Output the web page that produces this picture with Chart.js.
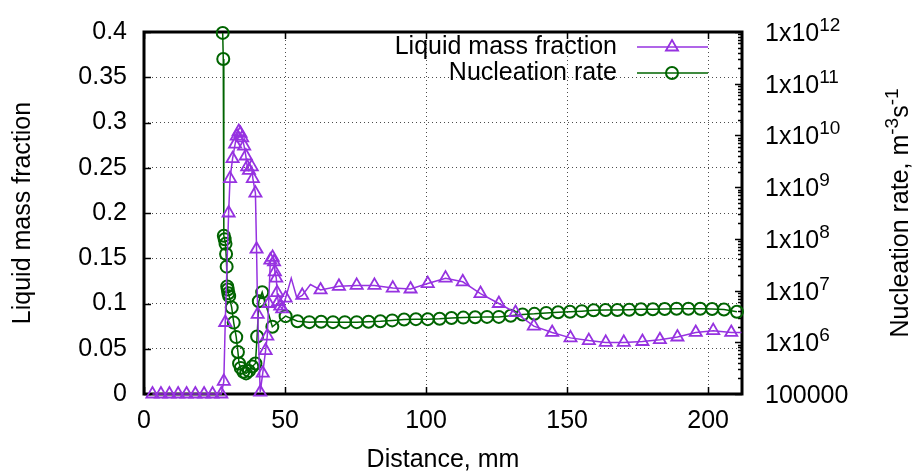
<!DOCTYPE html>
<html>
<head>
<meta charset="utf-8">
<script src="https://cdn.jsdelivr.net/npm/chart.js@4.4.1/dist/chart.umd.min.js"></script>
<style>
  html, body { margin: 0; padding: 0; background: #fff; }
</style>
</head>
<body>
<canvas id="chart" width="912" height="475"></canvas>
<script>
// liquid mass fraction along the sample (mm)
const liquidDist = [3.0, 6.0, 9.0, 12.1, 15.1, 18.2, 21.3, 24.3, 27.4,
  28.3, 28.8, 30.0, 30.5, 31.4, 32.3, 32.9, 33.6, 34.2, 34.8, 35.5, 36.1, 36.6, 37.2, 38.2, 38.6, 39.5,
  39.9, 40.3, 41.2, 42.1, 43.1, 43.7,
  44.2, 44.8, 45.6, 46.1, 46.4, 46.9, 47.2, 47.6, 48.3, 49.0, 50.2,
  52.2, 54.2, 56.1, 59.0, 62.6,
  69.1, 75.4, 81.7, 88.2, 94.5, 100.6, 106.9, 113.0, 119.3, 125.8, 131.7, 138.2, 144.7, 151.2,
  157.7, 163.7, 170.1, 176.7, 182.9, 189.1, 195.6, 201.8, 208.2, 211.8];
const liquidFrac = [0, 0, 0, 0, 0, 0, 0, 0, 0,
  0.014, 0.079, 0.200, 0.238, 0.260, 0.276, 0.285, 0.290, 0.288, 0.283, 0.274, 0.263, 0.251, 0.247, 0.251, 0.238, 0.222,
  0.160, 0.088, 0.002, 0.023, 0.048, 0.064,
  0.100, 0.148, 0.151, 0.146, 0.135, 0.128, 0.112, 0.102, 0.097, 0.094, 0.106,
  0.128, 0.106, 0.109, 0.121, 0.115,
  0.119, 0.120, 0.120, 0.117, 0.116, 0.122, 0.128, 0.124, 0.111, 0.100, 0.090, 0.075, 0.068, 0.062,
  0.059, 0.057, 0.057, 0.058, 0.060, 0.063, 0.068, 0.070, 0.068, 0.068];
// points on the line that carry no symbol
const liquidNoMark = [52.2, 54.2, 59.0, 211.8];

// nucleation rate, m^-3 s^-1
const nuclDist = [27.9, 28.1, 28.3, 28.6, 28.9, 29.1, 29.3, 29.5, 29.7, 29.9,
  30.2, 31.1, 31.8, 32.7, 33.3, 33.7, 34.3, 35.2, 36.2, 37.2,
  38.4, 39.5, 40.1, 40.7, 41.9, 45.5,
  50.2, 54.4, 58.6, 62.8, 67.0, 71.2, 75.4, 79.6, 83.8, 88.0,
  92.2, 96.4, 100.6, 104.8, 109.0, 113.2, 117.4, 121.6, 125.8, 130.0,
  134.2, 138.4, 142.6, 146.8, 151.0, 155.2, 159.4, 163.6, 167.8, 172.0,
  176.2, 180.4, 184.6, 188.8, 193.0, 197.2, 201.4, 205.6, 210.2];
const nuclRate = [9.6e11, 3.0e11, 1.15e8, 9.8e7, 8.0e7, 5.1e7, 2.9e7, 1.2e7, 1.05e7, 8.9e6,
  7.8e6, 4.7e6, 2.4e6, 1.26e6, 6.5e5, 3.9e5, 3.2e5, 2.7e5, 2.5e5, 2.8e5,
  3.4e5, 3.9e5, 1.29e6, 6.2e6, 9.3e6, 2.0e6,
  3.2e6, 2.55e6, 2.45e6, 2.5e6, 2.45e6, 2.45e6, 2.45e6, 2.5e6, 2.55e6, 2.65e6,
  2.75e6, 2.8e6, 2.8e6, 2.85e6, 2.95e6, 3.0e6, 3.05e6, 3.1e6, 3.1e6, 3.25e6,
  3.45e6, 3.55e6, 3.7e6, 3.8e6, 3.9e6, 4.0e6, 4.15e6, 4.2e6, 4.2e6, 4.25e6,
  4.35e6, 4.35e6, 4.4e6, 4.45e6, 4.45e6, 4.45e6, 4.4e6, 4.3e6, 3.9e6];

const distTicks = [0, 50, 100, 150, 200];
const fracTicks = [0, 0.05, 0.1, 0.15, 0.2, 0.25, 0.3, 0.35, 0.4];
const fracLabels = ['0', '0.05', '0.1', '0.15', '0.2', '0.25', '0.3', '0.35', '0.4'];
const rateTicks = [1e5, 1e6, 1e7, 1e8, 1e9, 1e10, 1e11, 1e12];

const FONT = 'Liberation Sans, Arial, Helvetica, sans-serif';
const PURPLE = '#9632e0';
const GREEN = '#006400';

Chart.defaults.font.family = FONT;
Chart.defaults.font.size = 25;
Chart.defaults.color = '#000';

function supText(ctx, x, y, parts, align) {
  // parts: [text, isSuperscript]
  const widths = parts.map(([t, sup]) => {
    ctx.font = (sup ? 19 : 25) + 'px ' + FONT;
    return ctx.measureText(t).width;
  });
  const total = widths.reduce((a, b) => a + b, 0);
  let cx = align === 'center' ? x - total / 2 : x;
  ctx.textAlign = 'left';
  ctx.textBaseline = 'alphabetic';
  parts.forEach(([t, sup], i) => {
    ctx.font = (sup ? 19 : 25) + 'px ' + FONT;
    ctx.fillText(t, cx, sup ? y - 10 : y);
    cx += widths[i];
  });
}

const gnuFrame = {
  id: 'gnuFrame',
  beforeDatasetsDraw(chart) {
    const {ctx, chartArea: a, scales} = chart;
    ctx.save();
    ctx.strokeStyle = '#000';
    ctx.lineWidth = 1.5;
    ctx.beginPath();
    distTicks.forEach(v => {
      const px = Math.round(scales.x.getPixelForValue(v)) + 0.5;
      ctx.moveTo(px, a.bottom); ctx.lineTo(px, a.bottom - 7);
      ctx.moveTo(px, a.top); ctx.lineTo(px, a.top + 7);
    });
    fracTicks.forEach(v => {
      const py = Math.round(scales.y.getPixelForValue(v)) + 0.5;
      ctx.moveTo(a.left, py); ctx.lineTo(a.left + 7, py);
    });
    rateTicks.forEach((v, i) => {
      const py = Math.round(scales.y2.getPixelForValue(v)) + 0.5;
      ctx.moveTo(a.right, py); ctx.lineTo(a.right - 7, py);
      if (i < rateTicks.length - 1) {
        for (let m = 2; m <= 9; m++) {
          const pm = Math.round(scales.y2.getPixelForValue(v * m)) + 0.5;
          ctx.moveTo(a.right, pm); ctx.lineTo(a.right - 4, pm);
        }
      }
    });
    ctx.stroke();
    ctx.lineWidth = 3;
    ctx.strokeRect(a.left, a.top, a.right - a.left, a.bottom - a.top);
    ctx.restore();
  },
  afterDraw(chart) {
    const {ctx, chartArea: a, scales} = chart;
    ctx.save();
    ctx.fillStyle = '#000';
    // right axis labels
    rateTicks.forEach(v => {
      const py = scales.y2.getPixelForValue(v) + 9;
      const exp = Math.round(Math.log10(v));
      if (exp === 5) supText(ctx, 765, py, [['100000', false]], 'left');
      else supText(ctx, 765, py, [['1x10', false], [String(exp), true]], 'left');
    });
    // right axis title
    ctx.save();
    ctx.translate(908, (a.top + a.bottom) / 2);
    ctx.rotate(-Math.PI / 2);
    supText(ctx, 0, 0, [['Nucleation rate, m', false], ['-3', true], ['s', false], ['-1', true]], 'center');
    ctx.restore();
    // key
    chart.data.datasets.forEach((ds, i) => {
      const y = 47 + i * 26;
      ctx.font = '25px ' + FONT;
      ctx.textAlign = 'right';
      ctx.textBaseline = 'middle';
      ctx.fillStyle = '#000';
      ctx.fillText(ds.label, 617, y);
      ctx.strokeStyle = ds.borderColor;
      ctx.lineWidth = 1.5;
      ctx.beginPath();
      ctx.moveTo(637, y); ctx.lineTo(708, y);
      ctx.stroke();
      ctx.fillStyle = 'rgba(0,0,0,0)';
      ctx.lineWidth = ds.pointBorderWidth;
      const r = ds.pointStyle === 'triangle' ? 7 : 6;
      Chart.helpers.drawPoint(ctx, {pointStyle: ds.pointStyle, radius: r, borderWidth: ds.pointBorderWidth, rotation: 0}, 672, y);
    });
    ctx.restore();
  }
};

new Chart(document.getElementById('chart'), {
  type: 'line',
  data: {
    datasets: [{
      label: 'Liquid mass fraction',
      data: liquidDist.map((x, i) => ({x: x, y: liquidFrac[i]})),
      yAxisID: 'y',
      borderColor: PURPLE,
      borderWidth: 1.5,
      pointStyle: 'triangle',
      pointRadius: ctx => liquidNoMark.includes(liquidDist[ctx.dataIndex]) ? 0 : 7,
      pointBorderWidth: 1.8,
      pointBorderColor: PURPLE,
      pointBackgroundColor: 'rgba(0,0,0,0)',
      tension: 0,
      clip: false
    }, {
      label: 'Nucleation rate',
      data: nuclDist.map((x, i) => ({x: x, y: nuclRate[i]})),
      yAxisID: 'y2',
      borderColor: GREEN,
      borderWidth: 1.5,
      pointStyle: 'circle',
      pointRadius: 6,
      pointBorderWidth: 2,
      pointBorderColor: GREEN,
      pointBackgroundColor: 'rgba(0,0,0,0)',
      tension: 0,
      clip: false
    }]
  },
  options: {
    responsive: false,
    animation: false,
    events: [],
    layout: { padding: { top: 25, left: 0, right: 0, bottom: 0 } },
    plugins: { legend: { display: false }, tooltip: { enabled: false } },
    scales: {
      x: {
        type: 'linear',
        min: 0,
        max: 212,
        afterBuildTicks: s => { s.ticks = distTicks.map(v => ({value: v})); },
        afterFit: s => { s.height = 81; },
        ticks: { padding: 12, maxRotation: 0 },
        grid: { color: 'rgba(0,0,0,0.7)', lineWidth: 1, drawTicks: false },
        border: { display: false, dash: [1, 3] },
        title: { display: true, text: 'Distance, mm', padding: { bottom: 0, top: 0 } }
      },
      y: {
        type: 'linear',
        position: 'left',
        min: 0,
        max: 0.4,
        afterBuildTicks: s => { s.ticks = fracTicks.map(v => ({value: v})); },
        afterFit: s => { s.width = 144; },
        ticks: { padding: 17, callback: (v, i) => fracLabels[i] },
        grid: { color: 'rgba(0,0,0,0.7)', lineWidth: 1, drawTicks: false },
        border: { display: false, dash: [1, 3] },
        title: { display: true, text: 'Liquid mass fraction', padding: { top: 8, bottom: 0 } }
      },
      y2: {
        type: 'logarithmic',
        position: 'right',
        min: 1e5,
        max: 1e12,
        afterBuildTicks: s => { s.ticks = rateTicks.map(v => ({value: v})); },
        afterFit: s => { s.width = 170; },
        ticks: { display: false },
        grid: { display: false },
        border: { display: false }
      }
    }
  },
  plugins: [gnuFrame]
});
</script>
</body>
</html>
